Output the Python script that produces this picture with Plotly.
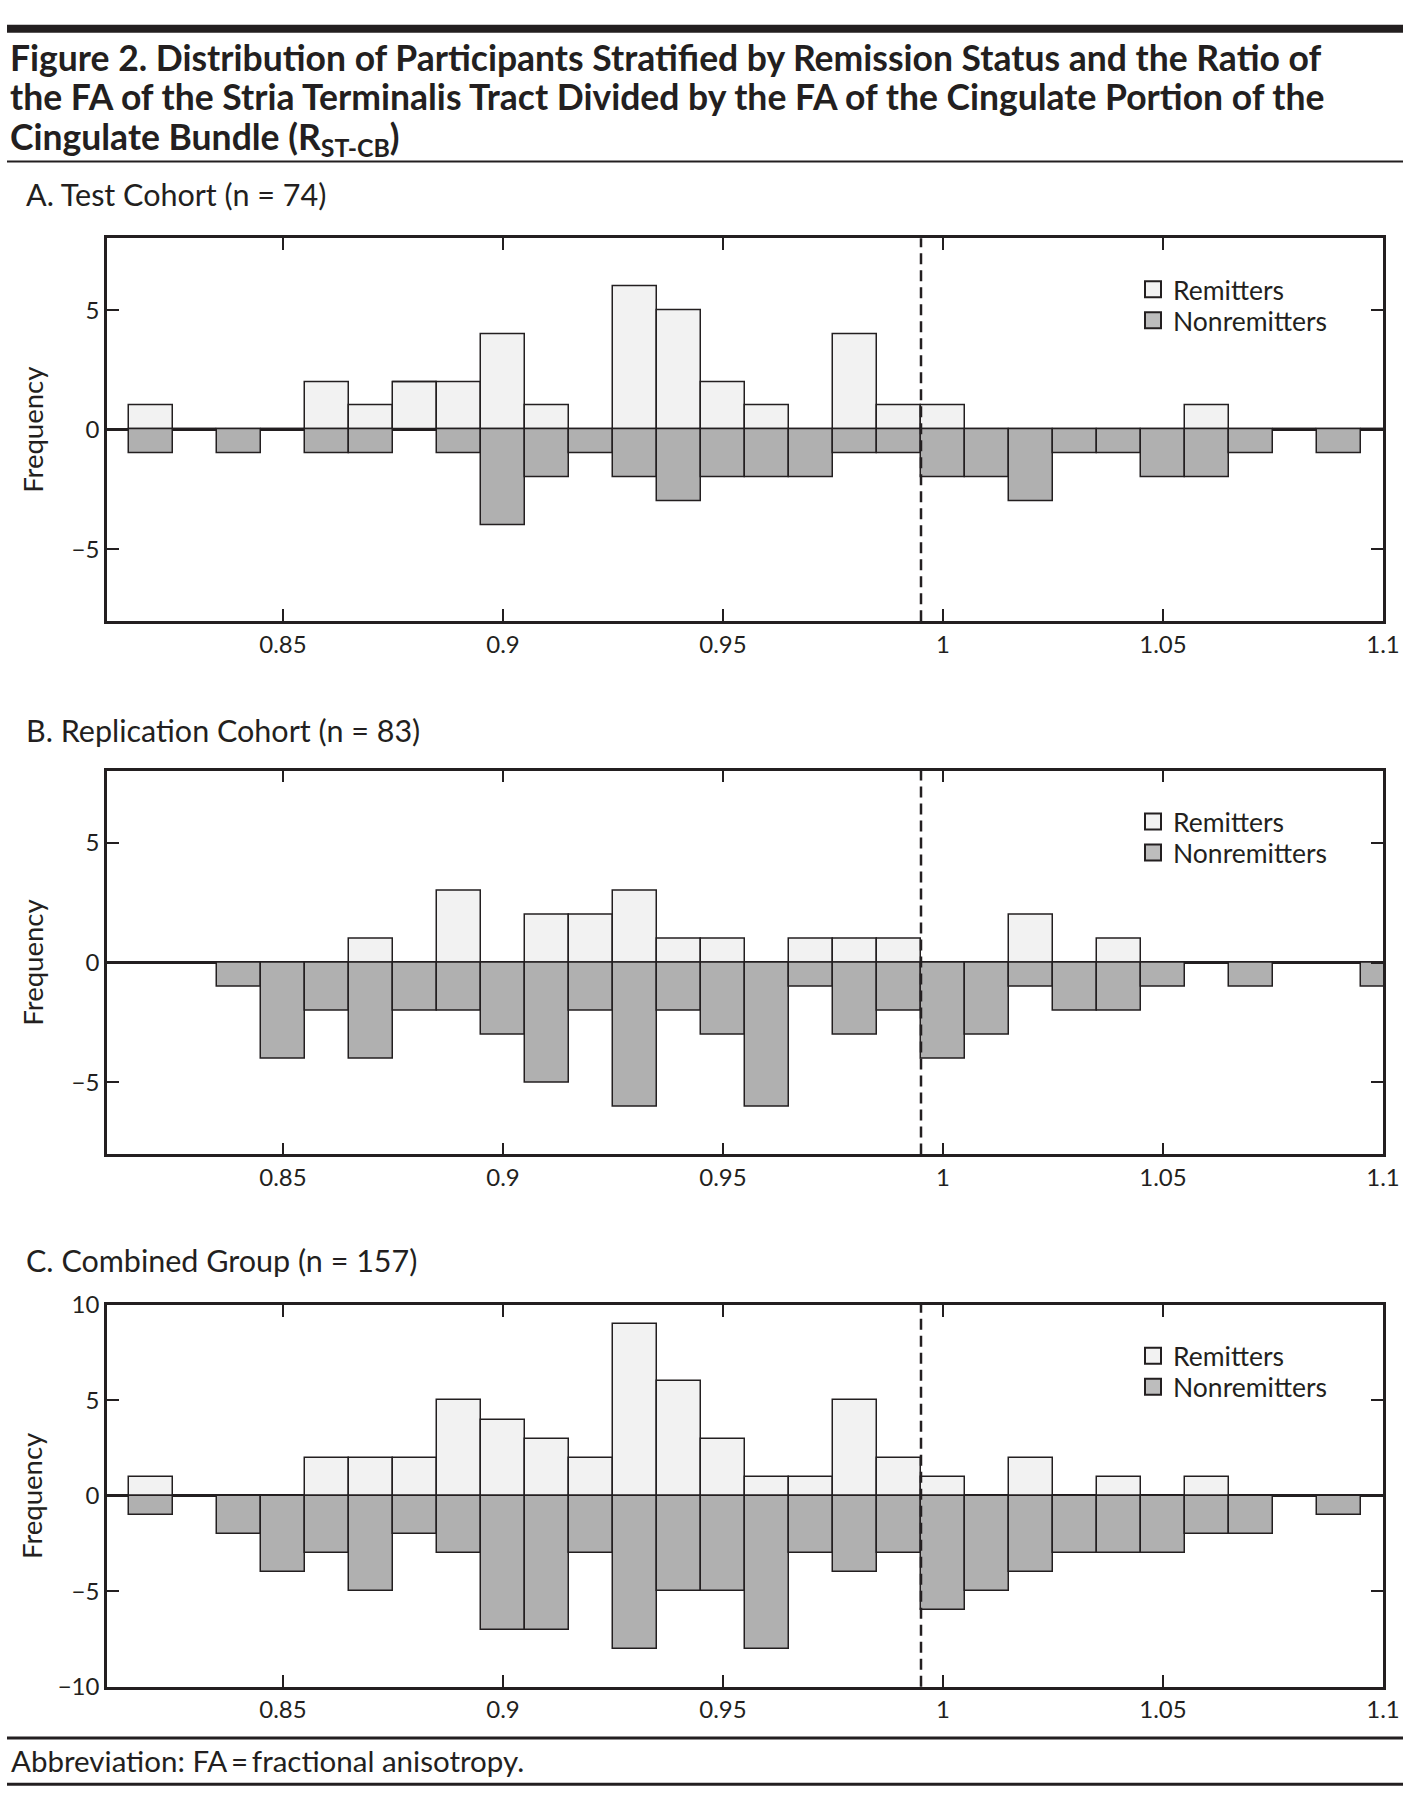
import plotly.graph_objects as go

# ---------------- data ----------------
bin_centers = [0.82, 0.83, 0.84, 0.85, 0.86, 0.87, 0.88, 0.89, 0.90, 0.91,
               0.92, 0.93, 0.94, 0.95, 0.96, 0.97, 0.98, 0.99, 1.00, 1.01,
               1.02, 1.03, 1.04, 1.05, 1.06, 1.07, 1.08, 1.09, 1.10]
bin_width = 0.01

test_remitters = [1, 0, 0, 0, 2, 1, 2, 2, 4, 1,
                  0, 6, 5, 2, 1, 0, 4, 1, 1, 0,
                  0, 0, 0, 0, 1, 0, 0, 0, 0]
test_nonremitters = [1, 0, 1, 0, 1, 1, 0, 1, 4, 2,
                     1, 2, 3, 2, 2, 2, 1, 1, 2, 2,
                     3, 1, 1, 2, 2, 1, 0, 1, 0]

repl_remitters = [0, 0, 0, 0, 0, 1, 0, 3, 0, 2,
                  2, 3, 1, 1, 0, 1, 1, 1, 0, 0,
                  2, 0, 1, 0, 0, 0, 0, 0, 0]
repl_nonremitters = [0, 0, 1, 4, 2, 4, 2, 2, 3, 5,
                     2, 6, 2, 3, 6, 1, 3, 2, 4, 3,
                     1, 2, 2, 1, 0, 1, 0, 0, 1]

comb_remitters = [1, 0, 0, 0, 2, 2, 2, 5, 4, 3,
                  2, 9, 6, 3, 1, 1, 5, 2, 1, 0,
                  2, 0, 1, 0, 1, 0, 0, 0, 0]
comb_nonremitters = [1, 0, 2, 4, 3, 5, 2, 3, 7, 7,
                     3, 8, 5, 5, 8, 3, 4, 3, 6, 5,
                     4, 3, 3, 3, 2, 2, 0, 1, 0]

panel_titles = ["A. Test Cohort (n = 74)",
                "B. Replication Cohort (n = 83)",
                "C. Combined Group (n = 157)"]
series_names = ["Remitters", "Nonremitters"]
x_tickvals = [0.85, 0.90, 0.95, 1.00, 1.05, 1.10]
x_ticktext = ["0.85", "0.9", "0.95", "1", "1.05", "1.1"]
cutoff = 0.995

# ---------------- layout constants ----------------
W, H = 1408, 1807
ML, MR = 107, 25
PW = W - ML - MR

def px(xr):
    return (xr - ML) / PW

def py(yr):
    return 1 - yr / H

FONT = "Lato, 'Open Sans', sans-serif"
INK = "#231f20"
C_REM = "#f2f2f2"
C_NON = "#b0b0b0"
C_NON_LEG = "#bdbdbd"

panels = [
    (test_remitters, test_nonremitters, (226, 615), [-8, 8], [-5, 0, 5], 20),
    (repl_remitters, repl_nonremitters, (767, 1157), [-8, 8], [-5, 0, 5], 20),
    (comb_remitters, comb_nonremitters, (1310, 1698), [-10, 10], [-10, -5, 0, 5, 10], 8),
]
subtitle_y = [181, 726, 1264]

fig = go.Figure()
layout = dict(
    width=W, height=H, autosize=False,
    margin=dict(l=ML, r=MR, t=0, b=0, pad=0),
    paper_bgcolor="white", plot_bgcolor="white",
    barmode="relative", bargap=0,
    font=dict(family=FONT, size=24, color=INK),
    showlegend=True,
)

annotations = []
shapes = []

for i, (rem, non, (top, bot), yr, yt, stand) in enumerate(panels):
    n = "" if i == 0 else str(i + 1)
    xa, ya = "x" + n, "y" + n
    fig.add_trace(go.Bar(x=bin_centers, y=rem, width=bin_width, name=series_names[0],
                         marker=dict(color=C_REM, line=dict(color=INK, width=1.5)),
                         xaxis=xa, yaxis=ya, showlegend=False))
    fig.add_trace(go.Bar(x=bin_centers, y=[-v for v in non], width=bin_width, name=series_names[1],
                         marker=dict(color=C_NON, line=dict(color=INK, width=1.5)),
                         xaxis=xa, yaxis=ya, showlegend=False))
    # legend entries (one legend box per entry for exact line spacing)
    for k, (nm, col) in enumerate(zip(series_names, [C_REM, C_NON_LEG])):
        idx = 2 * i + k + 1
        lg = "legend" if idx == 1 else "legend%d" % idx
        fig.add_trace(go.Scatter(x=[None], y=[None], mode="markers", name=nm,
                                 marker=dict(symbol="square", size=16, color=col,
                                             line=dict(color=INK, width=2)),
                                 xaxis=xa, yaxis=ya, legend=lg))
        layout[lg] = dict(
            x=px(1133), xanchor="left", y=py(top + 52 + 31.5 * k), yanchor="middle",
            bgcolor="rgba(0,0,0,0)", borderwidth=0,
            font=dict(family=FONT, size=26.5, color=INK), tracegroupgap=0,
        )
    layout["xaxis" + n] = dict(
        domain=[0, 1], range=[0.81, 1.10], anchor=ya,
        tickvals=x_tickvals, ticktext=x_ticktext,
        ticks="inside", ticklen=12, tickwidth=2, tickcolor=INK,
        showline=True, linecolor=INK, linewidth=2.5, mirror="ticks",
        showgrid=False, zeroline=False, layer="above traces",
        tickfont=dict(family=FONT, size=24, color=INK),
    )
    layout["yaxis" + n] = dict(
        domain=[py(bot), py(top)], range=yr, anchor=xa,
        tickvals=yt, ticktext=[str(v).replace("-", "\u2212") for v in yt],
        ticks="inside", ticklen=12, tickwidth=2, tickcolor=INK,
        showline=True, linecolor=INK, linewidth=2.5, mirror="ticks",
        showgrid=False, zeroline=True, zerolinecolor=INK, zerolinewidth=3,
        layer="above traces",
        tickfont=dict(family=FONT, size=24, color=INK),
        title=dict(text="Frequency", font=dict(family=FONT, size=27.5, color=INK),
                   standoff=stand),
    )
    shapes.append(dict(type="line", xref=xa, yref=ya + " domain",
                       x0=cutoff, x1=cutoff, y0=0, y1=1,
                       line=dict(color=INK, width=2.5, dash="11px,6px")))
    annotations.append(dict(text=panel_titles[i], xref="paper", yref="paper",
                            x=px(24), y=py(subtitle_y[i]), xanchor="left", yanchor="middle",
                            showarrow=False, font=dict(family=FONT, size=30.5, color=INK)))

# Title lines
title_lines = [
    "Figure 2. Distribution of Participants Stratified by Remission Status and the Ratio of",
    "the FA of the Stria Terminalis Tract Divided by the FA of the Cingulate Portion of the",
    "Cingulate Bundle (R<sub>ST-CB</sub>)",
]
for t, yy, ya_ in zip(title_lines, [42, 81.5, 99], ["middle", "middle", "top"]):
    annotations.append(dict(text=t, xref="paper", yref="paper",
                            x=px(8), y=py(yy), xanchor="left", yanchor=ya_,
                            showarrow=False,
                            font=dict(family=FONT, size=35.5, color=INK, weight=700)))

annotations.append(dict(text="Abbreviation: FA\u2009=\u2009fractional anisotropy.",
                        xref="paper", yref="paper", x=px(9), y=py(1773),
                        xanchor="left", yanchor="middle", showarrow=False,
                        font=dict(family=FONT, size=29.5, color=INK)))

# rules
shapes.append(dict(type="rect", xref="paper", yref="paper", x0=px(7), x1=px(1403),
                   y0=py(17), y1=py(9), fillcolor=INK, line=dict(width=0)))
for yy, w in [(148, 2), (1750, 3), (1797, 3)]:
    shapes.append(dict(type="line", xref="paper", yref="paper", x0=px(7), x1=px(1403),
                       y0=py(yy), y1=py(yy), line=dict(color=INK, width=w)))

layout["annotations"] = annotations
layout["shapes"] = shapes
fig.update_layout(**layout)
fig.write_html("out.html", config={"displayModeBar": False},
               post_script="document.body.style.margin='0';document.body.style.padding='0';")
